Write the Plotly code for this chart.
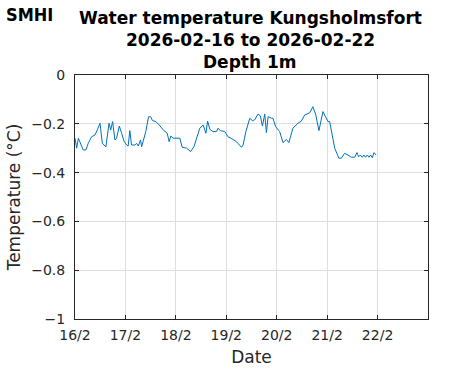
import pandas as pd
import plotly.graph_objects as go

# Hours since 2026-02-16 00:00 and water temperature (°C)
hours = [0, 0.8, 1.6, 3.9, 5.2, 6.3, 7.9, 9.5, 10.6, 11.9, 13.0, 14.7, 16.2, 17.0, 17.9,
         19.0, 19.8, 21.1, 22.2, 23.4, 24.6, 25.3, 26.1, 26.9, 28.5, 29.3, 30.1, 31.2,
         31.7, 32.8, 33.7, 35.0, 36.0, 36.9, 38.5, 40.1, 42.0, 43.9, 44.8, 45.6, 46.7,
         49.9, 51.0, 53.1, 55.0, 56.6, 57.8, 59.4, 61.0, 62.3, 63.1, 64.2, 65.7, 67.3,
         68.1, 69.2, 71.3, 72.8, 75.2, 76.8, 79.2, 80.0, 81.3, 82.1, 83.2, 84.4, 85.5,
         87.1, 88.2, 89.2, 90.3, 91.1, 91.9, 93.5, 94.2, 95.5, 97.4, 99.0, 100.6, 101.8,
         103.7, 106.1, 107.7, 109.3, 111.7, 113.2, 114.5, 116.1, 118.0, 120.4, 121.2,
         123.6, 125.6, 126.7, 128.3, 129.9, 131.5, 133.1, 134.2, 135.0, 135.8, 136.7,
         137.5, 138.3, 139.1, 139.9, 140.7, 141.5, 142.3, 143.3]
temps = [-0.259, -0.300, -0.259, -0.307, -0.307, -0.280, -0.253, -0.246, -0.225, -0.198,
         -0.280, -0.294, -0.198, -0.225, -0.191, -0.266, -0.259, -0.209, -0.239, -0.273,
         -0.287, -0.291, -0.228, -0.287, -0.287, -0.280, -0.291, -0.266, -0.294, -0.259,
         -0.232, -0.171, -0.171, -0.187, -0.191, -0.205, -0.225, -0.239, -0.273, -0.250,
         -0.259, -0.259, -0.296, -0.300, -0.314, -0.294, -0.259, -0.218, -0.205, -0.239,
         -0.189, -0.223, -0.232, -0.232, -0.218, -0.228, -0.232, -0.253, -0.264, -0.273,
         -0.296, -0.287, -0.232, -0.212, -0.177, -0.187, -0.184, -0.160, -0.168, -0.209,
         -0.160, -0.236, -0.171, -0.177, -0.177, -0.212, -0.232, -0.277, -0.264, -0.277,
         -0.218, -0.198, -0.189, -0.164, -0.155, -0.130, -0.160, -0.228, -0.150, -0.191,
         -0.191, -0.300, -0.341, -0.341, -0.321, -0.328, -0.337, -0.337, -0.318, -0.335,
         -0.328, -0.337, -0.328, -0.337, -0.328, -0.337, -0.328, -0.339, -0.318, -0.328]

start_date = "2026-02-16"
end_date = "2026-02-23"
tick_dates = ["2026-02-16", "2026-02-17", "2026-02-18", "2026-02-19",
              "2026-02-20", "2026-02-21", "2026-02-22"]
tick_labels = ["16/2", "17/2", "18/2", "19/2", "20/2", "21/2", "22/2"]
y_ticks = [0, -0.2, -0.4, -0.6, -0.8, -1]
y_tick_labels = ["0", "−0.2", "−0.4", "−0.6", "−0.8", "−1"]
title_lines = ["Water temperature Kungsholmsfort", "2026-02-16 to 2026-02-22", "Depth 1m"]

times = pd.Timestamp(start_date) + pd.to_timedelta(hours, unit="h")

fig = go.Figure()
fig.add_trace(go.Scatter(x=times, y=temps, mode="lines",
                         line=dict(color="#0072BD", width=1)))

FONT = "DejaVu Sans, sans-serif"
axis_font = dict(family=FONT, size=14, color="#262626")

annotations = []
for i, line in enumerate(title_lines):
    annotations.append(dict(
        text="<b>%s</b>" % line, xref="paper", yref="paper",
        x=0.496, y=1.234 - i * 0.09, xanchor="center", yanchor="middle",
        showarrow=False, font=dict(family=FONT, size=17, color="black"),
    ))
annotations.append(dict(
    text="<b>SMHI</b>", xref="paper", yref="paper", x=-0.2, y=1.3,
    xanchor="left", yanchor="top", showarrow=False,
    font=dict(family="DejaVu Sans Condensed, Liberation Sans Narrow, sans-serif",
              size=18, color="black"),
))

fig.update_layout(
    width=471, height=371,
    margin=dict(l=75, r=43, t=75, b=52, autoexpand=False),
    paper_bgcolor="white", plot_bgcolor="white",
    showlegend=False,
    xaxis=dict(
        range=[start_date, end_date], automargin=False,
        tickvals=tick_dates, ticktext=tick_labels,
        showgrid=True, gridcolor="#dedede", gridwidth=1,
        showline=True, linecolor="#262626", linewidth=1, mirror="ticks",
        ticks="inside", ticklen=4, tickcolor="#262626",
        tickfont=axis_font, ticklabelstandoff=3,
        title=dict(text="Date", font=dict(family=FONT, size=17, color="#262626"),
                   standoff=9),
        zeroline=False,
    ),
    yaxis=dict(
        range=[-1, 0], automargin=False,
        tickvals=y_ticks, ticktext=y_tick_labels,
        showgrid=True, gridcolor="#dedede", gridwidth=1,
        showline=True, linecolor="#262626", linewidth=1, mirror="ticks",
        ticks="inside", ticklen=4, tickcolor="#262626",
        tickfont=axis_font, ticklabelstandoff=6,
        title=dict(text="Temperature (°C)", font=dict(family=FONT, size=17, color="#262626"),
                   standoff=6),
        zeroline=False,
    ),
    annotations=annotations,
)

fig.write_html("out.html", config={"displayModeBar": False},
               post_script="document.body.style.margin='0';")
